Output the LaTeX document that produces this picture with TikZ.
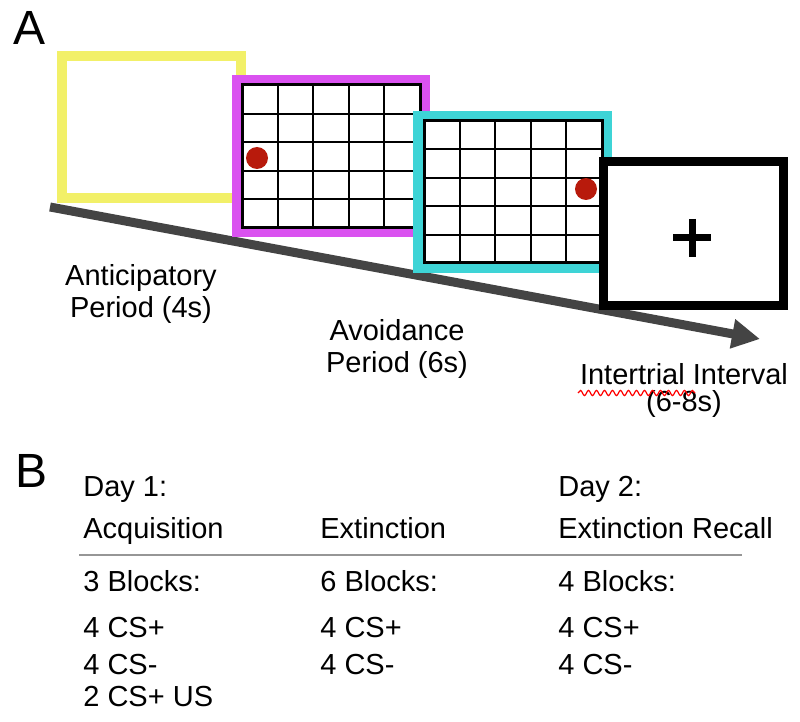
\documentclass[tikz,border=0pt]{standalone}
\usepackage{fontspec}
\setmainfont{Liberation Sans}
\usetikzlibrary{arrows.meta,decorations.pathmorphing,positioning}
\definecolor{antyellow}{RGB}{242,240,104}
\definecolor{avoidmag}{RGB}{218,82,240}
\definecolor{avoidcyan}{RGB}{62,212,214}
\definecolor{dotred}{RGB}{184,26,12}
\definecolor{arrowgray}{RGB}{68,68,68}
\definecolor{rulegray}{RGB}{150,150,150}

\begin{document}
\begin{tikzpicture}[x=0.5pt,y=-0.5pt,
    txt/.style={font=\fontsize{14.5}{16}\selectfont,inner sep=0pt},
    lbl/.style={txt,align=center},
    cell/.style={txt,anchor=base west},
    panel/.style={font=\fontsize{24}{26}\selectfont,inner sep=0pt,anchor=base west},
    frame/.style={fill=white,line width=5pt},
    gridline/.style={line width=1pt,black}]
    \useasboundingbox (0,0) rectangle (800,722);

    \node[panel] (pa) at (13,45) {A};
    \node[panel] (pb) at (15,488) {B};

    \coordinate (start) at (50,207);
    \coordinate (stop) at (760,339);
    \draw[line width=4.5pt,arrowgray,-{Triangle[length=14pt,width=14pt]}] (start) -- (stop);

    \draw[frame,draw=antyellow] (62,56) rectangle (241,198);

    \draw[frame,draw=avoidmag,line width=5.5pt] (237.5,80.5) rectangle (424.5,231.5);
    \foreach \i in {0,...,5} {
        \draw[gridline] ({242+\i*35.6},85) -- ({242+\i*35.6},228);
        \draw[gridline] (242,{85+\i*28.6}) -- (420,{85+\i*28.6});
    }
    \draw[line width=1.5pt] (242,85) rectangle (420,228);
    \fill[dotred] (257,158) circle (5.5pt);

    \draw[frame,draw=avoidcyan] (418,116) rectangle (607,268);
    \foreach \i in {0,...,5} {
        \draw[gridline] ({424+\i*35.6},121) -- ({424+\i*35.6},263);
        \draw[gridline] (424,{121+\i*28.4}) -- (602,{121+\i*28.4});
    }
    \draw[line width=1.5pt] (424,121) rectangle (602,263);
    \fill[dotred] (586,189) circle (5.5pt);

    \draw[frame,draw=black,line width=4.5pt] (603.5,161.5) rectangle (783.5,305.5);
    \draw[line width=3.5pt] (673,238) -- (711,238) (692,219) -- (692,257);

    \node[lbl] (antlbl) at (141,294) {Anticipatory\\Period (4s)};
    \node[lbl] (avlbl) at (397,349) {Avoidance\\Period (6s)};
    \node[lbl,font=\fontsize{14.5}{13.5}\selectfont] (itilbl) at (684,390) {Intertrial Interval\\(6-8s)};
    \draw[red,line width=0.6pt,decorate,decoration={snake,amplitude=1.3pt,segment length=4pt}]
        (578,393) -- (695,393);

    \node[cell] (day1) at (83,497) {Day 1:};
    \node[cell] (day2) at (558,497) {Day 2:};
    \node[cell] (acq) at (83,539) {Acquisition};
    \node[cell] (ext) at (320,539) {Extinction};
    \node[cell] (rec) at (558,539) {Extinction Recall};
    \coordinate (rulel) at (79,555);
    \coordinate (ruler) at (742,555);
    \draw[rulegray,line width=1.2pt] (rulel) -- (ruler);

    \foreach \x/\n/\b in {83/acq/3,320/ext/6,558/rec/4} {
        \node[cell] (blk\n) at (\x,592) {\b\ Blocks:};
        \node[cell] (plus\n) at (\x,638) {4 CS+};
        \node[cell] (minus\n) at (\x,675) {4 CS-};
    }
    \node[cell] (usacq) at (83,707) {2 CS+ US};
\end{tikzpicture}
\end{document}
